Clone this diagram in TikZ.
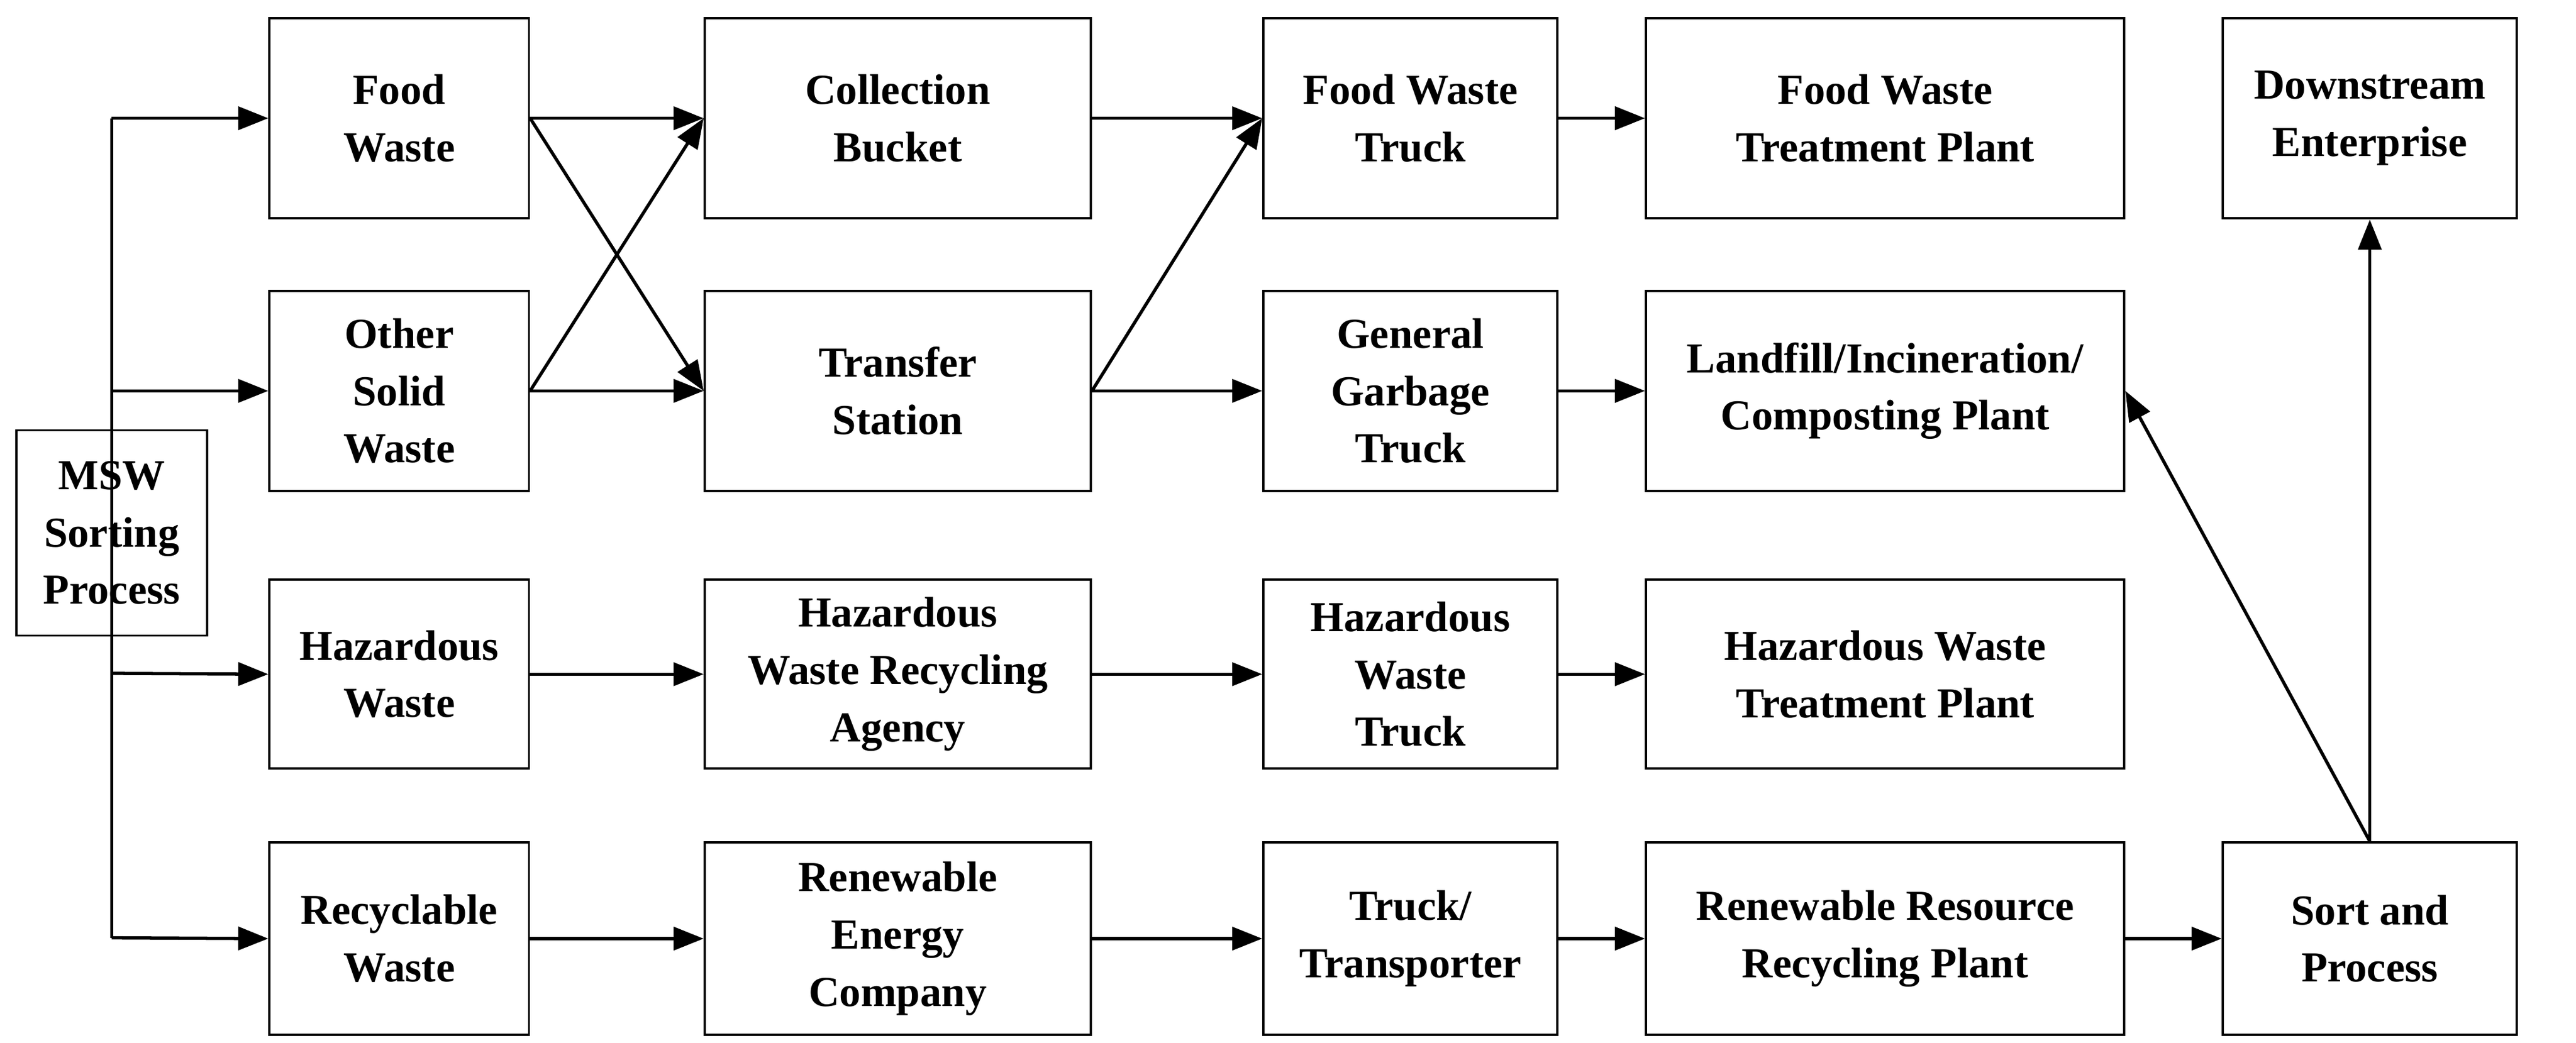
\documentclass[tikz,border=0pt]{standalone}
\usepackage{fontspec}
\setmainfont{Liberation Serif}
\usetikzlibrary{arrows.meta}
\begin{document}
\begin{tikzpicture}[x=0.025cm,y=-0.025cm,
  bx/.style={draw,line width=1pt,align=center,inner sep=0pt,font=\fontsize{18.5}{24.8}\selectfont\bfseries},
  ar/.style={line width=1.4pt,-{Triangle[length=13pt,width=10pt]}},
  ln/.style={line width=1.4pt}]
\useasboundingbox (0,0) rectangle (1568,635);
\newcommand{\bxat}[6]{\node[bx,minimum width={(#4-#2)*0.025cm},minimum height={(#5-#3)*0.025cm}] (#1) at ({(#2+#4)/2},{(#3+#5)/2}) {#6};}
\coordinate (t1) at (68,72);
\coordinate (t4) at (68,571);
\draw[ln] (t1) -- (t4);
\bxat{msw}{10}{262}{126}{387}{MSW\\Sorting\\Process}
\bxat{fw}{164}{11}{322}{133}{Food\\Waste}
\bxat{os}{164}{177}{322}{299}{Other\\Solid\\Waste}
\bxat{hw}{164}{353}{322}{468}{Hazardous\\Waste}
\bxat{rw}{164}{513}{322}{630}{Recyclable\\Waste}
\bxat{cb}{429}{11}{664}{133}{Collection\\Bucket}
\bxat{ts}{429}{177}{664}{299}{Transfer\\Station}
\bxat{hr}{429}{353}{664}{468}{Hazardous\\Waste Recycling\\Agency}
\bxat{re}{429}{513}{664}{630}{Renewable\\Energy\\Company}
\bxat{ft}{769}{11}{948}{133}{Food Waste\\Truck}
\bxat{gt}{769}{177}{948}{299}{General\\Garbage\\Truck}
\bxat{ht}{769}{353}{948}{468}{Hazardous\\Waste\\Truck}
\bxat{tt}{769}{513}{948}{630}{Truck/\\Transporter}
\bxat{fp}{1002}{11}{1293}{133}{Food Waste\\Treatment Plant}
\bxat{lp}{1002}{177}{1293}{299}{Landfill/Incineration/\\Composting Plant}
\bxat{hp}{1002}{353}{1293}{468}{Hazardous Waste\\Treatment Plant}
\bxat{rp}{1002}{513}{1293}{630}{Renewable Resource\\Recycling Plant}
\bxat{de}{1353}{11}{1532}{133}{Downstream\\Enterprise}
\bxat{sp}{1353}{513}{1532}{630}{Sort and\\Process}
\draw[ar] (t1) -- (fw.west);
\draw[ar] (68,238) -- (os.west);
\draw[ar] (68,410) -- (hw.west);
\draw[ar] (t4) -- (rw.west);
\draw[ar] (fw.east) -- (cb.west);
\draw[ar] (fw.east) -- (ts.west);
\draw[ar] (os.east) -- (cb.west);
\draw[ar] (os.east) -- (ts.west);
\draw[ar] (cb) -- (ft);
\draw[ar] (ts.east) -- (ft.west);
\draw[ar] (ts) -- (gt);
\draw[ar] (ft) -- (fp);
\draw[ar] (gt) -- (lp);
\draw[ar] (hw) -- (hr);
\draw[ar] (hr) -- (ht);
\draw[ar] (ht) -- (hp);
\draw[ar] (rw) -- (re);
\draw[ar] (re) -- (tt);
\draw[ar] (tt) -- (rp);
\draw[ar] (rp) -- (sp);
\draw[ar] (sp.north) -- (de.south);
\draw[ar] (sp.north) -- (lp.east);
\end{tikzpicture}
\end{document}
